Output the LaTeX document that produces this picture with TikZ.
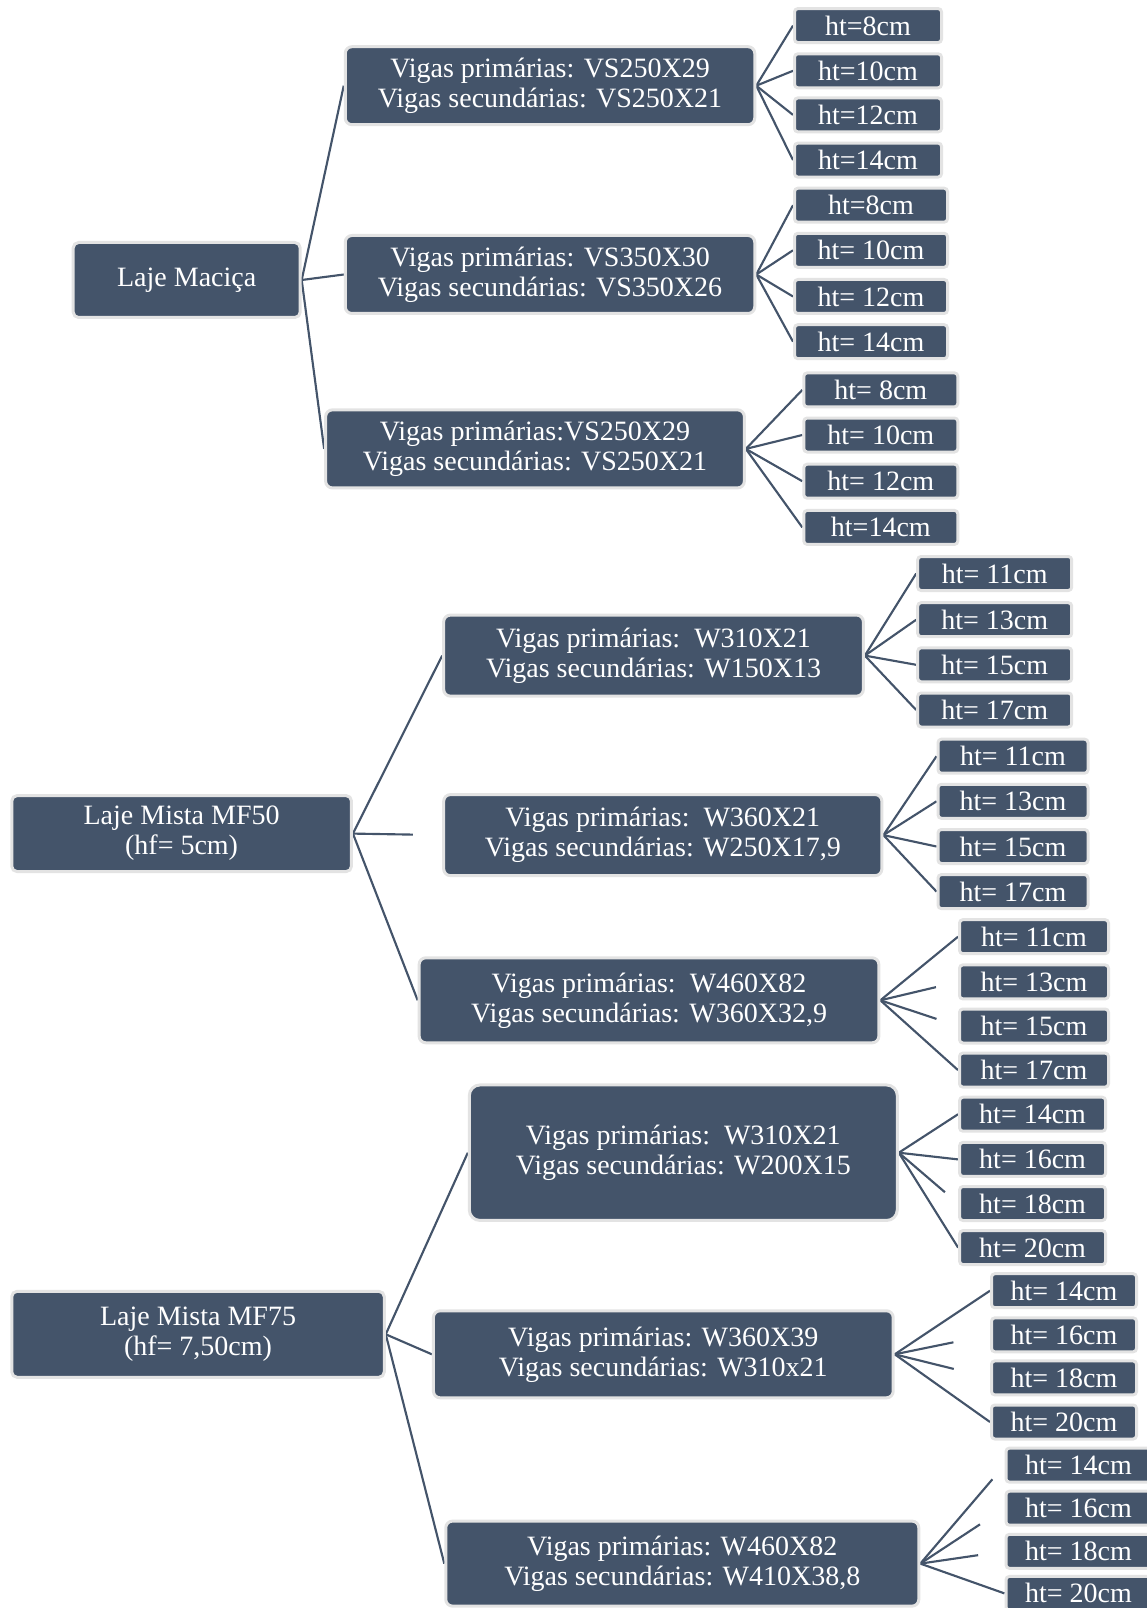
\documentclass[tikz,border=0pt]{standalone}
\usepackage{fontspec}
\setmainfont{Liberation Serif}
\usetikzlibrary{backgrounds}
\definecolor{slate}{HTML}{44546A}
\definecolor{rim}{HTML}{E3E3E3}
\tikzset{
  box/.style={fill=slate, draw=rim, line width=2.25pt, text=white, rounded corners=4pt,
    inner sep=0pt, align=center, font=\fontsize{21}{22.5}\selectfont},
  leaf/.style={box, rounded corners=2.5pt},
  wh/.style 2 args={minimum width={(#1-3)*0.75pt}, minimum height={(#2-3)*0.75pt}},
  link/.style={draw=slate, line width=1.6pt}
}
\begin{document}
\begin{tikzpicture}[x=0.75pt,y=-0.75pt]
\useasboundingbox (0,0) rectangle (1146,1608);
% ---------- Laje Maciça ----------
\node[box, wh={230}{78}] (r1) at (186.7,280) {Laje Maciça};
\node[box, wh={412.5}{81}, rounded corners=5pt] (m1) at (550,85.7) {Vigas primárias: VS250X29\\Vigas secundárias: VS250X21};
\node[box, wh={412.5}{81}, rounded corners=5pt] (m2) at (550,274.5) {Vigas primárias: VS350X30\\Vigas secundárias: VS350X26};
\node[box, wh={421.7}{81}, rounded corners=5pt] (m3) at (535,448.9) {Vigas primárias:VS250X29\\Vigas secundárias: VS250X21};
\foreach \i/\y/\t in {a/25.6/ht=8cm, b/70.8/ht=10cm, c/114.9/ht=12cm, d/160.1/ht=14cm}
  \node[leaf, wh={150}{37}] (g1\i) at (868,\y) {\t};
\foreach \i/\y/\t in {a/205.2/ht=8cm, b/250.3/ht= 10cm, c/296.5/ht= 12cm, d/341.7/ht= 14cm}
  \node[leaf, wh={156}{37}] (g2\i) at (871,\y) {\t};
\foreach \i/\y/\t in {a/389.9/ht= 8cm, b/435/ht= 10cm, c/481.2/ht= 12cm, d/527.4/ht=14cm}
  \node[leaf, wh={157}{37}] (g3\i) at (880.8,\y) {\t};
% ---------- Laje Mista MF50 ----------
\node[box, wh={342.7}{79}] (r2) at (181.6,833.6) {Laje Mista MF50\\(hf= 5cm)};
\node[box, wh={422.7}{84}, rounded corners=5pt] (n1) at (653.5,655.6) {Vigas primárias:\ \ W310X21\\Vigas secundárias: W150X13};
\node[box, wh={441.2}{84}, rounded corners=5pt] (n2) at (662.8,835.1) {Vigas primárias:\ \ W360X21\\Vigas secundárias: W250X17,9};
\node[box, wh={462.7}{88}, rounded corners=5pt] (n3) at (649,1000.3) {Vigas primárias:\ \ W460X82\\Vigas secundárias: W360X32,9};
\foreach \i/\y/\t in {a/573.5/ht= 11cm, b/619.7/ht= 13cm, c/664.8/ht= 15cm, d/710/ht= 17cm}
  \node[leaf, wh={157}{37}] (h1\i) at (994.7,\y) {\t};
\foreach \i/\y/\t in {a/756.2/ht= 11cm, b/801.3/ht= 13cm, c/846.5/ht= 15cm, d/891.6/ht= 17cm}
  \node[leaf, wh={153}{37}] (h2\i) at (1013,\y) {\t};
\foreach \i/\y/\t in {a/936.7/ht= 11cm, b/981.9/ht= 13cm, c/1026/ht= 15cm, d/1070.1/ht= 17cm}
  \node[leaf, wh={152}{37}] (h3\i) at (1034,\y) {\t};
% ---------- Laje Mista MF75 ----------
\node[box, wh={375.5}{89}] (r3) at (198,1334.3) {Laje Mista MF75\\(hf= 7,50cm)};
\node[box, wh={431}{138.5}, rounded corners=8pt] (p1) at (683.3,1152.7) {Vigas primárias:\ \ W310X21\\Vigas secundárias: W200X15};
\node[box, wh={462.8}{90}, rounded corners=5pt] (p2) at (663.3,1354.3) {Vigas primárias: W360X39\\Vigas secundárias: W310x21};
\node[box, wh={476}{88}, rounded corners=5pt] (p3) at (682.3,1563.6) {Vigas primárias: W460X82\\Vigas secundárias: W410X38,8};
\foreach \i/\y/\t in {a/1114.2/ht= 14cm, b/1159.4/ht= 16cm, c/1203.5/ht= 18cm, d/1247.6/ht= 20cm}
  \node[leaf, wh={149}{37}] (k1\i) at (1032.6,\y) {\t};
\foreach \i/\y/\t in {a/1290.7/ht= 14cm, b/1334.8/ht= 16cm, c/1377.9/ht= 18cm, d/1422/ht= 20cm}
  \node[leaf, wh={148}{37}] (k2\i) at (1064,\y) {\t};
\foreach \i/\y/\t in {a/1465.1/ht= 14cm, b/1508.2/ht= 16cm, c/1551.3/ht= 18cm, d/1593.4/ht= 20cm}
  \node[leaf, wh={148}{37}] (k3\i) at (1078.5,\y) {\t};
% ---------- connectors ----------
\begin{pgfonlayer}{background}
\foreach \m in {m1,m2,m3} \draw[link] (r1.east) -- (\m.west);
\foreach \i in {a,b,c,d} {
  \draw[link] (m1.east) -- (g1\i.west);
  \draw[link] (m2.east) -- (g2\i.west);
  \draw[link] (m3.east) -- (g3\i.west);
  \draw[link] (n1.east) -- (h1\i.west);
  \draw[link] (n2.east) -- (h2\i.west);
}
\draw[link] (r2.east) -- (n1.west);
\draw[link, shorten >=22pt] (r2.east) -- (n2.west);
\draw[link] (r2.east) -- (n3.west);
\draw[link] (n3.east) -- (h3a.west);
\draw[link, shorten >=17pt] (n3.east) -- (h3b.west);
\draw[link, shorten >=17pt] (n3.east) -- (h3c.west);
\draw[link] (n3.east) -- (h3d.west);
\draw[link] (r3.east) -- (p1.west);
\draw[link] (r3.east) -- (p2.west);
\draw[link] (r3.east) -- (p3.west);
\draw[link] (p1.east) -- (k1a.west);
\draw[link] (p1.east) -- (k1b.west);
\draw[link, shorten >=13pt] (p1.east) -- (k1c.west);
\draw[link] (p1.east) -- (k1d.west);
\draw[link] (p2.east) -- (k2a.west);
\draw[link, shorten >=28pt] (p2.east) -- (k2b.west);
\draw[link, shorten >=28pt] (p2.east) -- (k2c.west);
\draw[link] (p2.east) -- (k2d.west);
\draw[link, shorten >=14pt] (p3.east) -- (k3a.west);
\draw[link, shorten >=22pt] (p3.east) -- (k3b.west);
\draw[link, shorten >=20pt] (p3.east) -- (k3c.west);
\draw[link] (p3.east) -- (k3d.west);
\end{pgfonlayer}
\end{tikzpicture}
\end{document}
